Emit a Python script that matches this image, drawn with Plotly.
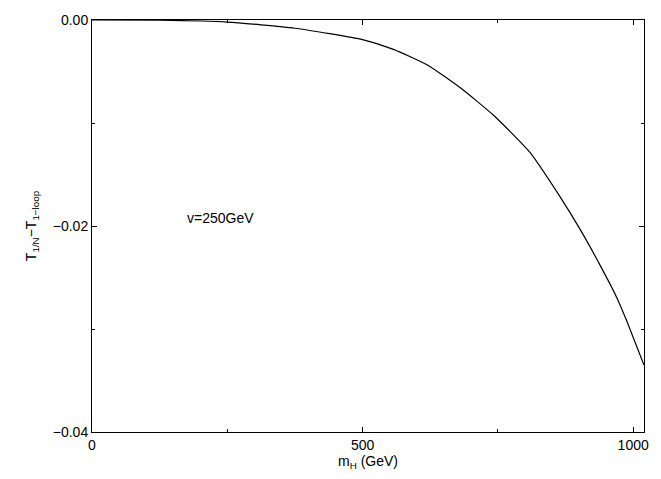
import plotly.graph_objects as go

# Higgs mass (GeV) and the difference T_1/N - T_1-loop
m_h = [0, 125, 250, 375, 500, 557, 619, 680, 742, 810, 865, 902, 939, 970, 988, 1020]
t_diff = [0.0, -0.00002, -0.0002, -0.0008, -0.0019, -0.00285, -0.00434, -0.00656,
          -0.00925, -0.0129, -0.01717, -0.02033, -0.02382, -0.02698, -0.0292, -0.0335]

x_ticks = [0, 500, 1000]
x_labels = ["0", "500", "1000"]
y_ticks = [0.0, -0.02, -0.04]
y_labels = ["0.00", "\u22120.02", "\u22120.04"]

font = dict(family="Liberation Sans, Arial, sans-serif", size=14, color="black")

fig = go.Figure()
fig.add_trace(go.Scatter(
    x=m_h, y=t_diff, mode="lines",
    line=dict(color="black", width=1.2, shape="spline", smoothing=0.5),
    showlegend=False, hoverinfo="skip",
))

axis_common = dict(
    showline=True, linecolor="black", linewidth=1, mirror="allticks",
    ticks="inside", ticklen=5, tickcolor="black", tickwidth=1,
    showgrid=False, zeroline=False, tickfont=font,
)

fig.update_xaxes(
    range=[0, 1020], tickvals=x_ticks, ticktext=x_labels,
    minor=dict(tickvals=[250, 750], ticks="inside", ticklen=3, tickcolor="black", showgrid=False),
    title=dict(text="m<sub>H</sub> (GeV)", font=font, standoff=4),
    **axis_common,
)
fig.update_yaxes(
    range=[-0.04, 0.0], tickvals=y_ticks, ticktext=y_labels,
    minor=dict(tickvals=[-0.01, -0.03], ticks="inside", ticklen=3, tickcolor="black", showgrid=False),
    title=dict(text="T<sub>1/N</sub>\u2212T<sub>1\u2212loop</sub>", font=font, standoff=12),
    **axis_common,
)

fig.add_annotation(
    x=172, y=-0.0192, xref="x", yref="y", text="v=250GeV",
    showarrow=False, xanchor="left", yanchor="middle", font=font,
)

fig.update_layout(
    width=661, height=479,
    margin=dict(l=92, r=17, t=16, b=42),
    paper_bgcolor="white", plot_bgcolor="white",
)

fig.write_html("out.html")
